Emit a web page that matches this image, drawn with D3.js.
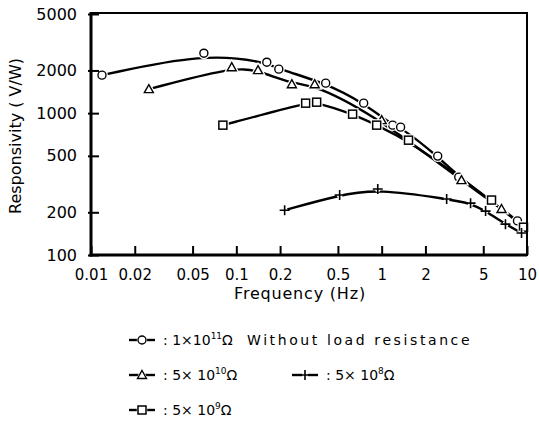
<!DOCTYPE html>
<html>
<head>
<meta charset="utf-8">
<script src="https://cdn.jsdelivr.net/npm/d3@7/dist/d3.min.js"></script>
<style>
  html, body { margin: 0; padding: 0; background: #fff; }
  svg { display: block; }
  text { font-family: "DejaVu Sans", sans-serif; fill: #000; }
</style>
</head>
<body>
<svg id="chart" width="539" height="437"></svg>
<script>
// ---- data ----
const xTicks = [0.01, 0.02, 0.05, 0.1, 0.2, 0.5, 1, 2, 5, 10];
const xTickLabels = ["0.01", "0.02", "0.05", "0.1", "0.2", "0.5", "1", "2", "5", "10"];
const yTicks = [100, 200, 500, 1000, 2000, 5000];
const yTickLabels = ["100", "200", "500", "1000", "2000", "5000"];

const circleFreq = [0.0119, 0.0598, 0.162, 0.196, 0.412, 0.752, 1.19, 1.35, 2.43, 3.39, 8.6];
const circleResp = [1853, 2647, 2287, 2042, 1627, 1176, 823, 797, 498, 354, 174];

const triangleFreq = [0.025, 0.093, 0.141, 0.241, 0.346, 1.0, 3.54, 6.68];
const triangleResp = [1476, 2108, 2009, 1600, 1600, 893, 337, 211];

const squareFreq = [0.0808, 0.30, 0.357, 0.631, 0.924, 1.53, 5.70, 9.46];
const squareResp = [823, 1176, 1195, 984, 823, 645, 244, 157];

const plusFreq = [0.215, 0.514, 0.94, 2.80, 4.09, 5.19, 7.11, 9.17];
const plusResp = [207, 265, 292, 248, 232, 204, 165, 143];

// ---- layout ----
const svg = d3.select("#chart");
const L = 91, R = 527, T = 14, B = 255;
const x = d3.scaleLog().domain([0.01, 10]).range([L, R]);
const y = d3.scaleLog().domain([100, 5000]).range([B, T]);

const series = [
  { name: "circle", f: circleFreq, r: circleResp },
  { name: "triangle", f: triangleFreq, r: triangleResp },
  { name: "square", f: squareFreq, r: squareResp },
  { name: "plus", f: plusFreq, r: plusResp }
];

const line = d3.line()
  .x(d => x(d[0])).y(d => y(d[1]))
  .curve(d3.curveBasis);

function drawMarker(g, type, cx, cy, halo) {
  if (type === "circle") {
    if (halo) g.append("circle").attr("cx", cx).attr("cy", cy).attr("r", 4)
      .attr("fill", "#fff").attr("stroke", "#fff").attr("stroke-width", halo + 1.4);
    g.append("circle").attr("cx", cx).attr("cy", cy).attr("r", 4)
      .attr("fill", "#fff").attr("stroke", "#000").attr("stroke-width", 1.4);
  } else if (type === "triangle") {
    const p = `M${cx},${cy - 4.5}L${cx + 4.5},${cy + 3.5}L${cx - 4.5},${cy + 3.5}Z`;
    if (halo) g.append("path").attr("d", p).attr("fill", "#fff").attr("stroke", "#fff").attr("stroke-width", halo + 1.4);
    g.append("path").attr("d", p).attr("fill", "#fff").attr("stroke", "#000").attr("stroke-width", 1.4);
  } else if (type === "square") {
    if (halo) g.append("rect").attr("x", cx - 4).attr("y", cy - 4).attr("width", 8).attr("height", 8)
      .attr("fill", "#fff").attr("stroke", "#fff").attr("stroke-width", halo + 1.4);
    g.append("rect").attr("x", cx - 4).attr("y", cy - 4).attr("width", 8).attr("height", 8)
      .attr("fill", "#fff").attr("stroke", "#000").attr("stroke-width", 1.5);
  } else if (type === "plus") {
    if (halo) g.append("circle").attr("cx", cx).attr("cy", cy).attr("r", 3)
      .attr("fill", "#fff");
    g.append("path").attr("d", `M${cx - 5},${cy}H${cx + 5}M${cx},${cy - 5}V${cy + 5}`)
      .attr("stroke", "#000").attr("stroke-width", 1.6);
  }
}

// ---- curves and markers ----
const plot = svg.append("g");
series.forEach(s => {
  const pts = s.f.map((f, i) => [f, s.r[i]]);
  plot.append("path").attr("d", line(pts))
    .attr("fill", "none").attr("stroke", "#000").attr("stroke-width", 2.4);
});
series.forEach(s => {
  s.f.forEach((f, i) => drawMarker(plot, s.name, x(f), y(s.r[i]), 2.5));
});

// ---- frame ----
svg.append("rect").attr("x", L).attr("y", 13).attr("width", R - L).attr("height", B - 13)
  .attr("fill", "none").attr("stroke", "#000").attr("stroke-width", 2);
svg.append("line").attr("x1", L).attr("x2", L).attr("y1", 12).attr("y2", B + 1.5)
  .attr("stroke", "#000").attr("stroke-width", 3);
svg.append("line").attr("x1", L - 1.5).attr("x2", R).attr("y1", B).attr("y2", B)
  .attr("stroke", "#000").attr("stroke-width", 3);

// ---- axes ----
const yAxis = d3.axisLeft(y).tickValues(yTicks)
  .tickFormat((d, i) => yTickLabels[i]).tickSize(-8).tickPadding(14);
const gy = svg.append("g").attr("transform", `translate(${L},0)`).call(yAxis);
gy.select(".domain").remove();
gy.selectAll(".tick line").attr("stroke", "#000").attr("stroke-width", 2).attr("x1", -3);
gy.selectAll(".tick text").attr("font-family", "DejaVu Sans").attr("font-size", 16)
  .attr("fill", "#000");

const xAxis = d3.axisBottom(x).tickValues(xTicks)
  .tickFormat((d, i) => xTickLabels[i]).tickSize(-9).tickPadding(14);
const gx = svg.append("g").attr("transform", `translate(0,${B})`).call(xAxis);
gx.select(".domain").remove();
gx.selectAll(".tick line").attr("stroke", "#000").attr("stroke-width", 2);
gx.selectAll(".tick text").attr("font-family", "DejaVu Sans").attr("font-size", 15)
  .attr("fill", "#000");

// ---- titles ----
svg.append("text").attr("x", 300).attr("y", 299).attr("text-anchor", "middle")
  .attr("font-size", 16).attr("letter-spacing", 0.8).text("Frequency (Hz)");
svg.append("text").attr("transform", "translate(21,136) rotate(-90)")
  .attr("text-anchor", "middle").attr("font-size", 16).text("Responsivity ( V/W)");

// ---- legend ----
const legendItems = [
  { type: "circle", x: 129, y: 340, base: "1×10", exp: "11", tail: "Without load resistance" },
  { type: "triangle", x: 129, y: 375, base: "5× 10", exp: "10", tail: "" },
  { type: "plus", x: 292, y: 375, base: "5× 10", exp: "8", tail: "" },
  { type: "square", x: 129, y: 410, base: "5× 10", exp: "9", tail: "" }
];
const lg = svg.append("g");
legendItems.forEach(it => {
  lg.append("line").attr("x1", it.x).attr("x2", it.x + 26).attr("y1", it.y).attr("y2", it.y)
    .attr("stroke", "#000").attr("stroke-width", 2.4);
  drawMarker(lg, it.type, it.x + 13, it.y, 1);
  const t = lg.append("text").attr("x", it.x + 34).attr("y", it.y + 5).attr("font-size", 14);
  t.append("tspan").text(": ");
  t.append("tspan").text(it.base);
  t.append("tspan").attr("font-size", 9).attr("dy", -6).text(it.exp);
  t.append("tspan").attr("dy", 6).text("Ω");
  if (it.tail) {
    lg.append("text").attr("x", 247).attr("y", it.y + 5)
      .attr("font-family", "DejaVu Sans Mono").attr("font-size", 14)
      .attr("letter-spacing", 2.6).text(it.tail);
  }
});
</script>
</body>
</html>
